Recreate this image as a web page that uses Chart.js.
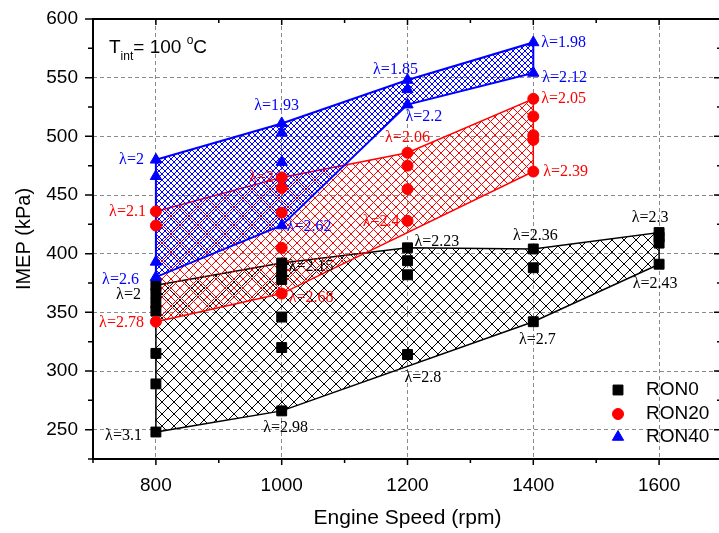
<!DOCTYPE html>
<html>
<head>
<meta charset="utf-8">
<script src="https://cdn.jsdelivr.net/npm/chart.js@4.4.1/dist/chart.umd.min.js"></script>
<style>
  html, body { margin: 0; padding: 0; background: #fff; overflow: hidden; }
  #clip { width: 719px; height: 533px; overflow: hidden; }
  #box { width: 730px; height: 533px; position: relative; }
</style>
</head>
<body>
<div id="clip"><div id="box"><canvas id="imep_chart"></canvas></div></div>
<script>
// RON0 measurements
var rpm0  = [800, 800, 800, 800, 800, 800, 800, 1000, 1000, 1000, 1000, 1000, 1000, 1200, 1200, 1200, 1200, 1400, 1400, 1400, 1600, 1600, 1600, 1600];
var imep0 = [373, 366, 358, 351, 315, 289, 248, 392, 385, 378, 346, 320, 266, 405, 394, 382, 314, 404, 388, 342, 418, 414, 409, 391];
var lam0  = ['2', '', '', '', '', '', '3.1', '2.15', '', '', '', '', '2.98', '2.23', '', '', '2.8', '2.36', '', '2.7', '2.3', '', '', '2.43'];

// RON20 measurements
var rpm20  = [800, 800, 800, 1000, 1000, 1000, 1000, 1000, 1200, 1200, 1200, 1200, 1400, 1400, 1400, 1400, 1400];
var imep20 = [436, 424, 342, 465, 456, 435, 405, 366, 486, 475, 455, 428, 532, 517, 501, 497, 470];
var lam20  = ['2.1', '', '2.78', '2', '', '', '', '2.68', '2.06', '', '', '2.4', '2.05', '', '', '', '2.39'];

// RON40 measurements
var rpm40  = [800, 800, 800, 800, 1000, 1000, 1000, 1000, 1200, 1200, 1200, 1400, 1400];
var imep40 = [480, 466, 393, 380, 511, 503, 478, 424, 548, 540, 527, 580, 554];
var lam40  = ['2', '', '', '2.6', '1.93', '', '', '2.62', '1.85', '', '2.2', '1.98', '2.12'];

// operating region outlines (closed)
var edge0Rpm  = [800, 1000, 1200, 1400, 1600, 1600, 1400, 1000, 800, 800];
var edge0Imep = [373, 392, 405, 404, 418, 391, 342, 266, 248, 373];
var edge20Rpm  = [800, 1000, 1200, 1400, 1400, 1000, 800, 800];
var edge20Imep = [436, 465, 486, 532, 470, 366, 342, 436];
var edge40Rpm  = [800, 1000, 1200, 1400, 1400, 1200, 1000, 800, 800];
var edge40Imep = [480, 511, 548, 580, 554, 527, 424, 380, 480];

var seriesNames = ['RON0', 'RON20', 'RON40'];

// where each lambda label sits next to its point: [align, dx, dy]
var place0 = {0: ['right', -15, 9], 6: ['right', -14, 4], 7: ['left', 7, 4], 12: ['center', 4, 17],
    13: ['left', 7, -6], 16: ['left', -3, 23], 17: ['center', 2, -13], 19: ['center', 4, 18],
    20: ['center', -9, -15], 23: ['center', -4, 20]};
var place20 = {0: ['right', -10, 0], 2: ['right', -12, 1], 3: ['right', -8, 0], 7: ['left', 7, 4],
    8: ['center', 0, -15], 11: ['right', -8, 1], 12: ['left', 8, 0], 16: ['left', 10, 0]};
var place40 = {0: ['right', -12, 0], 3: ['right', -17, 3], 4: ['center', -5, -18], 7: ['left', 5, 1],
    8: ['center', -12, -10], 10: ['left', -2, 12], 11: ['left', 8, 0], 12: ['left', 9, 5]};

function pts(xs, ys) {
    var out = [];
    for (var i = 0; i < xs.length; i++) out.push({x: xs[i], y: ys[i]});
    return out;
}

// cross hatch fill
function hatch(color, gap) {
    var c = document.createElement('canvas');
    c.width = gap; c.height = gap;
    var g = c.getContext('2d');
    g.strokeStyle = color;
    g.lineWidth = 1;
    g.beginPath();
    for (var k = -1; k <= 1; k++) {
        g.moveTo(k * gap - 1, -1); g.lineTo(k * gap + gap + 1, gap + 1);
        g.moveTo(k * gap + gap + 1, -1); g.lineTo(k * gap - 1, gap + 1);
    }
    g.stroke();
    return g.createPattern(c, 'repeat');
}

var sansFont = "'Liberation Sans', Arial, sans-serif";
var serifFont = "'Liberation Serif', 'Times New Roman', serif";

var lambdaLabels = {
    id: 'lambdaLabels',
    afterDatasetsDraw: function(chart) {
        var ctx = chart.ctx, sx = chart.scales.x, sy = chart.scales.y;
        var sets = [[rpm0, imep0, lam0, place0, '#000'], [rpm20, imep20, lam20, place20, '#ff0000'], [rpm40, imep40, lam40, place40, '#0000ff']];
        ctx.save();
        ctx.font = '16px ' + serifFont;
        ctx.textBaseline = 'middle';
        sets.forEach(function(s) {
            ctx.fillStyle = s[4];
            for (var i = 0; i < s[2].length; i++) {
                if (!s[2][i]) continue;
                var p = s[3][i];
                ctx.textAlign = p[0];
                ctx.fillText('\u03bb=' + s[2][i], sx.getPixelForValue(s[0][i]) + p[1], sy.getPixelForValue(s[1][i]) + p[2]);
            }
        });
        ctx.restore();
    }
};

// box frame with minor/major tick marks
var axisFrame = {
    id: 'axisFrame',
    afterDraw: function(chart) {
        var ctx = chart.ctx, a = chart.chartArea, sx = chart.scales.x, sy = chart.scales.y;
        ctx.save();
        ctx.strokeStyle = '#000';
        ctx.lineWidth = 2;
        ctx.strokeRect(a.left, a.top, a.right - a.left, a.bottom - a.top);
        ctx.lineWidth = 1.5;
        ctx.beginPath();
        sx.ticks.forEach(function(t) {
            var px = sx.getPixelForValue(t.value);
            var len = t.value % 200 === 0 ? 6 : 4;
            ctx.moveTo(px, a.bottom); ctx.lineTo(px, a.bottom + len);
            ctx.moveTo(px, a.top); ctx.lineTo(px, a.top + len);
        });
        sy.ticks.forEach(function(t) {
            var py = sy.getPixelForValue(t.value);
            var len = t.value % 50 === 0 ? 8 : 5;
            ctx.moveTo(a.left - len, py); ctx.lineTo(a.left, py);
            ctx.moveTo(a.right - len, py); ctx.lineTo(a.right, py);
        });
        ctx.stroke();
        ctx.restore();
    }
};

var legendBox = {
    id: 'legendBox',
    afterDraw: function(chart) {
        var ctx = chart.ctx, a = chart.chartArea;
        ctx.save();
        ctx.font = '19px ' + sansFont;
        ctx.textBaseline = 'middle';
        ctx.textAlign = 'left';
        var rows = [-69, -45, -22];
        for (var i = 0; i < 3; i++) {
            var ds = chart.data.datasets[2 - i];
            var y = a.bottom + rows[i];
            ctx.fillStyle = ds.backgroundColor;
            ctx.strokeStyle = ds.borderColor;
            Chart.helpers.drawPoint(ctx, {pointStyle: ds.pointStyle, radius: ds.pointRadius, rotation: 0, borderWidth: 1}, a.right - 104, y);
            ctx.fillStyle = '#000';
            ctx.fillText(seriesNames[i], a.right - 76, y);
        }
        // intake temperature note
        var x = a.left + 16, base = a.top + 34;
        ctx.textBaseline = 'alphabetic';
        ctx.font = '19px ' + sansFont;
        ctx.fillText('T', x, base); x += ctx.measureText('T').width;
        ctx.font = '12px ' + sansFont;
        ctx.fillText('int', x, base + 7); x += ctx.measureText('int').width;
        ctx.font = '19px ' + sansFont;
        ctx.fillText('= 100 ', x, base); x += ctx.measureText('= 100 ').width;
        ctx.font = '12px ' + sansFont;
        ctx.fillText('o', x, base - 9); x += ctx.measureText('o').width;
        ctx.font = '19px ' + sansFont;
        ctx.fillText('C', x, base);
        ctx.restore();
    }
};

var chartImep = new Chart(document.getElementById('imep_chart'), {
    type: 'scatter',
    data: {
        datasets: [
            {label: 'RON40', data: pts(rpm40, imep40), pointStyle: 'triangle', pointRadius: 6.5,
             backgroundColor: '#0000ff', borderColor: '#0000ff', borderWidth: 1},
            {label: 'RON20', data: pts(rpm20, imep20), pointStyle: 'circle', pointRadius: 5.5,
             backgroundColor: '#ff0000', borderColor: '#ff0000', borderWidth: 1},
            {label: 'RON0', data: pts(rpm0, imep0), pointStyle: 'rect', pointRadius: 7,
             backgroundColor: '#000000', borderColor: '#000000', borderWidth: 1},
            {label: 'RON40 region', data: pts(edge40Rpm, edge40Imep), showLine: true, pointRadius: 0,
             borderColor: '#0000ff', borderWidth: 2, backgroundColor: hatch('#0000ff', 6), fill: 'shape', tension: 0},
            {label: 'RON20 region', data: pts(edge20Rpm, edge20Imep), showLine: true, pointRadius: 0,
             borderColor: '#ff0000', borderWidth: 1.5, backgroundColor: hatch('#ff0000', 9), fill: 'shape', tension: 0},
            {label: 'RON0 region', data: pts(edge0Rpm, edge0Imep), showLine: true, pointRadius: 0,
             borderColor: '#000000', borderWidth: 1.5, backgroundColor: hatch('#000000', 12), fill: 'shape', tension: 0}
        ]
    },
    options: {
        responsive: true,
        maintainAspectRatio: false,
        animation: false,
        layout: {padding: {top: 19, right: 3, left: 0, bottom: 0}},
        plugins: {
            legend: {display: false},
            tooltip: {enabled: false}
        },
        scales: {
            x: {
                type: 'linear',
                min: 700,
                max: 1700,
                afterFit: function(s) {
                    s.height = 74;
                    s.paddingLeft = 0;
                    s.paddingRight = 0;
                },
                border: {display: false, dash: [4, 3]},
                grid: {
                    drawTicks: false,
                    lineWidth: 1,
                    color: function(c) {
                        var v = c.tick.value;
                        return (v % 200 === 0 && v > 700 && v < 1700) ? '#8a8a8a' : 'rgba(0,0,0,0)';
                    }
                },
                ticks: {
                    stepSize: 100,
                    autoSkip: false,
                    maxRotation: 0,
                    padding: 15,
                    color: '#000',
                    font: {family: sansFont, size: 19},
                    callback: function(value) {
                        return (value % 200 === 0 && value > 700 && value < 1700) ? value : '';
                    }
                },
                title: {display: true, text: 'Engine Speed (rpm)', color: '#000',
                        font: {family: sansFont, size: 21}, padding: {top: 0, bottom: 2}}
            },
            y: {
                min: 225,
                max: 600,
                afterFit: function(s) {
                    s.width = 93;
                    s.paddingTop = 0;
                    s.paddingBottom = 0;
                },
                border: {display: false, dash: [4, 3]},
                grid: {
                    drawTicks: false,
                    lineWidth: 1,
                    color: function(c) {
                        var v = c.tick.value;
                        return (v % 50 === 0 && v < 600) ? '#8a8a8a' : 'rgba(0,0,0,0)';
                    }
                },
                ticks: {
                    stepSize: 25,
                    autoSkip: false,
                    padding: 15,
                    color: '#000',
                    font: {family: sansFont, size: 19},
                    callback: function(value) {
                        return value % 50 === 0 ? value : '';
                    }
                },
                title: {display: true, text: 'IMEP (kPa)', color: '#000',
                        font: {family: sansFont, size: 20}, padding: {top: 12, bottom: 0}}
            }
        }
    },
    plugins: [lambdaLabels, axisFrame, legendBox]
});
</script>
</body>
</html>
